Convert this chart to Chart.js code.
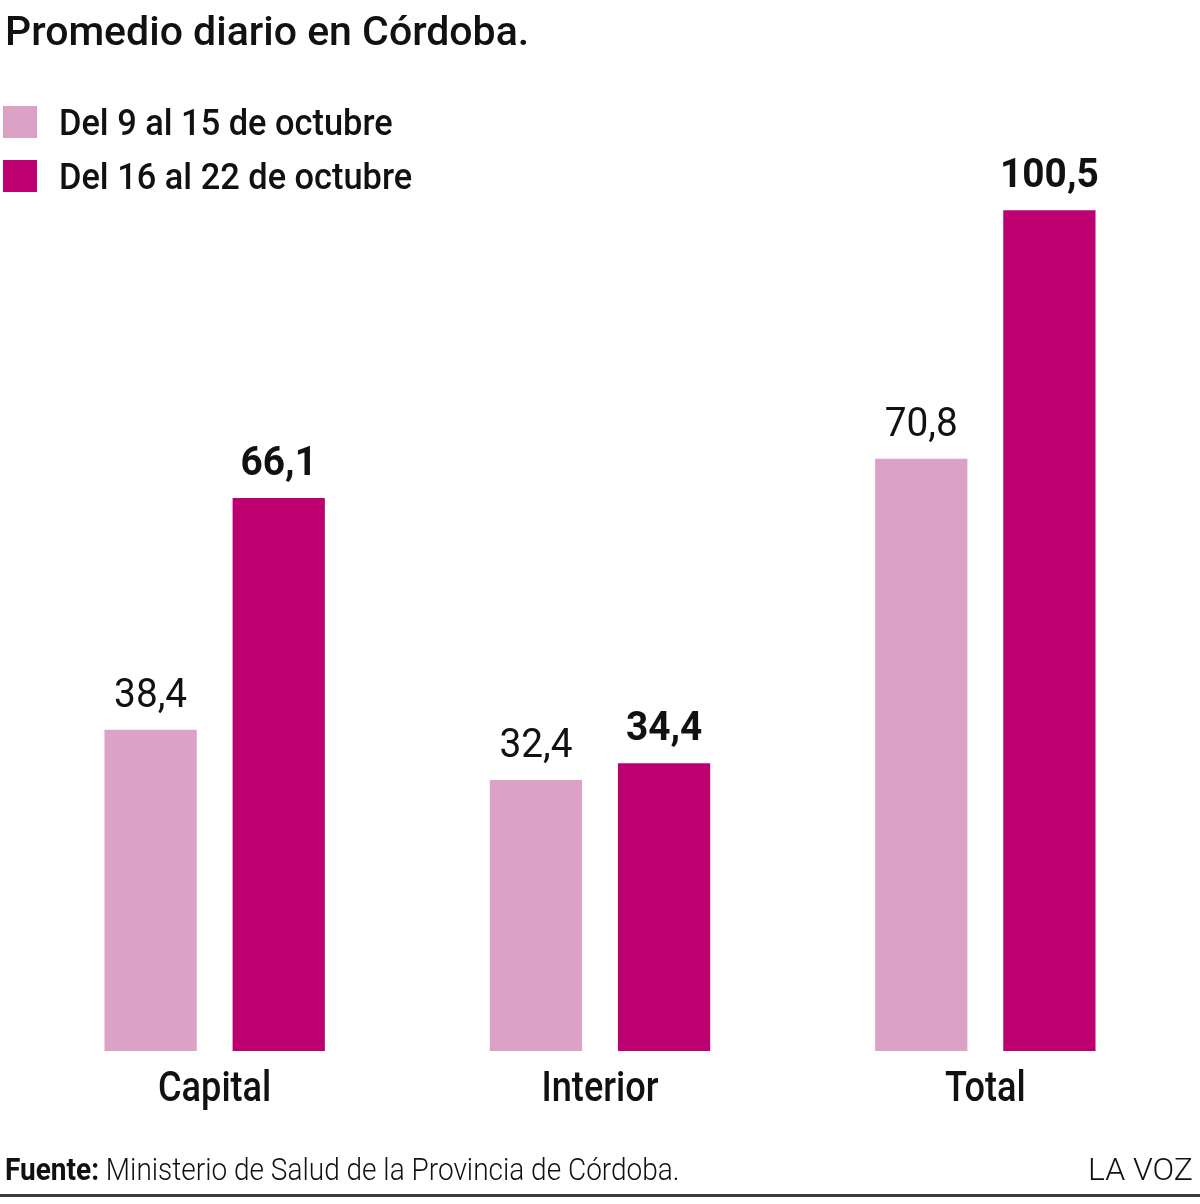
<!DOCTYPE html>
<html>
<head>
<meta charset="utf-8">
<script src="https://cdn.jsdelivr.net/npm/chart.js@4"></script>
<style>
  html, body { margin: 0; padding: 0; background: #fff; }
  body { width: 1200px; height: 1204px; position: relative; overflow: hidden; font-family: Roboto, sans-serif; color: #111; }
  #chart { position: absolute; left: 0; top: 0; }
  .txt { position: absolute; white-space: nowrap; line-height: 1; transform-origin: left top; }
  .title { left: 5px; top: 11px; font-size: 41px; font-weight: 500; }
  .legend-item { position: absolute; left: 3px; height: 34px; }
  .legend-item .box { position: absolute; left: 0; top: 0; width: 34px; height: 32px; }
  .legend-item .lbl { left: 56px; top: -1px; font-size: 36px; font-weight: 500; transform: scaleX(0.955); }
  .source { left: 5px; top: 1153px; font-size: 32px; font-weight: 300; transform: scaleX(0.875); }
  .source b { font-weight: 700; }
  .brand { right: 7px; top: 1153px; font-size: 32px; font-weight: 300; transform-origin: right top; }
  .rule { position: absolute; left: 0; right: 0; top: 1194px; height: 3px; background: #3a3a3a; }
</style>
</head>
<body>
<canvas id="chart" width="1200" height="1204"></canvas>
<div class="txt title">Promedio diario en Córdoba.</div>
<div id="legend"></div>
<div class="txt source"><b>Fuente:</b> Ministerio de Salud de la Provincia de Córdoba.</div>
<div class="txt brand">LA VOZ</div>
<div class="rule"></div>
<script>
const categories = ["Capital", "Interior", "Total"];
const seriesNames = ["Del 9 al 15 de octubre", "Del 16 al 22 de octubre"];
const week1 = [38.4, 32.4, 70.8];
const week2 = [66.1, 34.4, 100.5];
const colors = ["#dca2c6", "#bc0070"];

// legend in html
const legend = document.querySelector("#legend");
seriesNames.forEach((name, i) => {
  const item = document.createElement("div");
  item.className = "legend-item";
  item.style.top = (106 + i * 54) + "px";
  item.innerHTML = `<div class="box" style="background:${colors[i]}"></div><div class="txt lbl">${name}</div>`;
  legend.appendChild(item);
});

const fmt = (v) => v.toFixed(1).replace(".", ",");

const drawText = (ctx, text, x, y, font, sx) => {
  ctx.save();
  ctx.translate(x, y);
  ctx.scale(sx, 1);
  ctx.font = font;
  ctx.fillText(text, 0, 0);
  ctx.restore();
};

const labelsPlugin = {
  id: "labels",
  afterDatasetsDraw(chart) {
    const ctx = chart.ctx;
    ctx.fillStyle = "#111";
    ctx.textAlign = "center";
    ctx.textBaseline = "alphabetic";
    chart.data.datasets.forEach((ds, di) => {
      const meta = chart.getDatasetMeta(di);
      meta.data.forEach((bar, i) => {
        const font = (di === 1 ? "700 " : "400 ") + "40px Roboto";
        drawText(ctx, fmt(ds.data[i]), bar.x, bar.y - 23, font, 0.97);
      });
    });
    const xs = chart.scales.x;
    categories.forEach((c, i) => {
      drawText(ctx, c, xs.getPixelForValue(i), 1101, "500 42px Roboto", 0.86);
    });
  },
};

new Chart(document.querySelector("#chart"), {
  type: "bar",
  data: {
    labels: categories,
    datasets: [
      { label: seriesNames[0], data: week1, backgroundColor: colors[0] },
      { label: seriesNames[1], data: week2, backgroundColor: colors[1] },
    ],
  },
  options: {
    responsive: false,
    animation: false,
    devicePixelRatio: 1,
    categoryPercentage: 0.665,
    barPercentage: 0.72,
    layout: { padding: { left: 22, right: 22, top: 47, bottom: 153 } },
    plugins: { legend: { display: false }, tooltip: { enabled: false } },
    scales: {
      x: { display: false },
      y: { display: false, min: 0, max: 120 },
    },
  },
  plugins: [labelsPlugin],
});
</script>
</body>
</html>
